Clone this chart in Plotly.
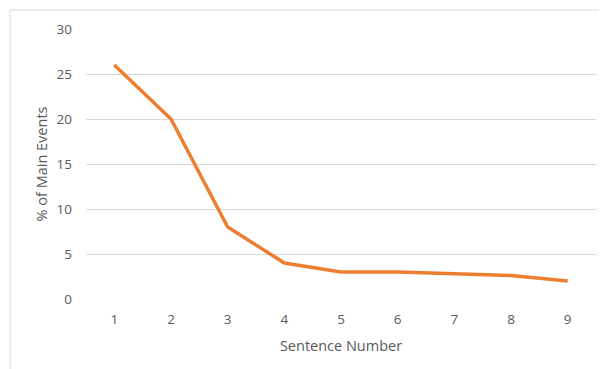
import plotly.graph_objects as go

sentence_numbers = [1, 2, 3, 4, 5, 6, 7, 8, 9]
pct_main_events = [26, 20, 8, 4, 3, 3, 2.8, 2.6, 2]
y_ticks = [0, 5, 10, 15, 20, 25, 30]

fig = go.Figure()
fig.add_trace(go.Scatter(
    x=sentence_numbers, y=pct_main_events, mode="lines",
    line=dict(color="#ED7D31", width=3.5), showlegend=False,
))

font_color = "#595959"
fig.update_layout(
    width=599, height=361,
    margin=dict(l=78, r=11, t=21, b=70),
    paper_bgcolor="white", plot_bgcolor="white",
    font=dict(family="Open Sans, Liberation Sans, sans-serif", color=font_color, size=13.5),
    xaxis=dict(
        range=[0.5, 9.5], tickvals=sentence_numbers, showgrid=False, zeroline=False,
        showline=False, ticks="", ticklabelstandoff=10,
        title=dict(text="Sentence Number", font=dict(size=14.5, color=font_color), standoff=14),
    ),
    yaxis=dict(
        range=[0, 30], tickvals=y_ticks, showgrid=True, gridcolor="#d9d9d9", gridwidth=1,
        zeroline=False, showline=False, ticks="", ticklabelstandoff=13,
        title=dict(text="% of Main Events", font=dict(size=14.5, color=font_color), standoff=5),
    ),
    shapes=[dict(
        type="rect", xref="paper", yref="paper",
        x0=-0.149, x1=1.05, y0=-0.35, y1=1.0704,
        line=dict(color="#d9d9d9", width=1), fillcolor="rgba(0,0,0,0)", layer="below",
    )],
)

fig.write_html("out.html")
